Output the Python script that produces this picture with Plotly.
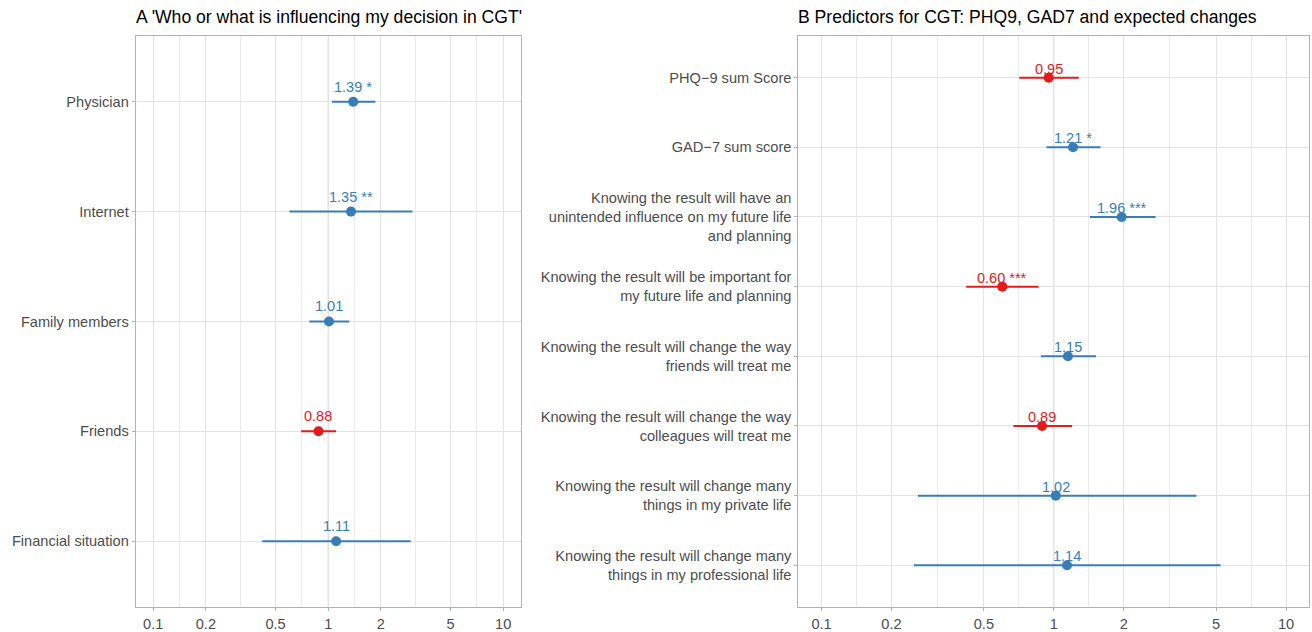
import math
import plotly.graph_objects as go

# ---- Data ----
left_cats = ["Physician", "Internet", "Family members", "Friends", "Financial situation"]
left_or = [1.39, 1.35, 1.01, 0.88, 1.11]
left_lo = [1.05, 0.60, 0.78, 0.70, 0.42]
left_hi = [1.86, 3.03, 1.32, 1.11, 2.96]
left_sig = ["*", "**", "", "", ""]

right_cats = [
    "PHQ\u22129 sum Score",
    "GAD\u22127 sum score",
    "Knowing the result will have an<br>unintended influence on my future life<br>and planning",
    "Knowing the result will be important for<br>my future life and planning",
    "Knowing the result will change the way<br>friends will treat me",
    "Knowing the result will change the way<br>colleagues will treat me",
    "Knowing the result will change many<br>things in my private life",
    "Knowing the result will change many<br>things in my professional life",
]
right_or = [0.95, 1.21, 1.96, 0.60, 1.15, 0.89, 1.02, 1.14]
right_lo = [0.71, 0.93, 1.43, 0.42, 0.88, 0.67, 0.26, 0.25]
right_hi = [1.28, 1.59, 2.74, 0.86, 1.52, 1.20, 4.11, 5.22]
right_sig = ["", "*", "***", "***", "", "", "", ""]

tick_vals = [0.1, 0.2, 0.5, 1, 2, 5, 10]
tick_text = ["0.1", "0.2", "0.5", "1", "2", "5", "10"]
minor_vals = [0.1414, 0.3162, 0.7071, 1.414, 3.162, 7.071]

title_left = "A 'Who or what is influencing my decision in CGT'"
title_right = "B Predictors for CGT: PHQ9, GAD7 and expected changes"

BLUE = "#377EB8"
RED = "#E41A1C"
FONT = "Liberation Sans, Arial, Helvetica, sans-serif"
W, H = 1312, 632
TICK_SIZE = 14.6
LABEL_SIZE = 14.5
TITLE_SIZE = 17.6

fig = go.Figure()
annotations = []


def add_panel(cats, ors, los, his, sigs, xa, ya, yshift):
    for c, o, lo, hi, s in zip(cats, ors, los, his, sigs):
        col = RED if o < 1 else BLUE
        label = f"{o:.2f}" + (f" {s}" if s else "")
        fig.add_trace(go.Scatter(
            x=[o], y=[c], mode="markers",
            marker=dict(size=10, color=col),
            error_x=dict(type="data", symmetric=False, array=[hi - o], arrayminus=[o - lo],
                         color=col, thickness=2, width=0),
            xaxis=xa, yaxis=ya, showlegend=False, cliponaxis=False,
        ))
        # plotly annotations on log axes take log10 coordinates
        annotations.append(dict(
            text=label, x=math.log10(o), y=c, xref=xa, yref=ya,
            xanchor="center", yanchor="middle", yshift=yshift, showarrow=False,
            font=dict(size=LABEL_SIZE, color=col, family=FONT),
        ))


add_panel(left_cats, left_or, left_lo, left_hi, left_sig, "x", "y", 15)
add_panel(right_cats, right_or, right_lo, right_hi, right_sig, "x2", "y2", 9)

xcommon = dict(
    type="log", range=[-1.1, 1.1], tickvals=tick_vals, ticktext=tick_text,
    showgrid=True, gridcolor="#E3E3E3", gridwidth=1,
    minor=dict(tickvals=minor_vals, showgrid=True, gridcolor="#EBEBEB", gridwidth=1, ticks=""),
    showline=True, linecolor="#B3B3B3", linewidth=1, mirror=True,
    ticks="outside", ticklen=3, tickcolor="#B3B3B3",
    tickfont=dict(size=TICK_SIZE, color="#4D4D4D", family=FONT),
    zeroline=False, fixedrange=True,
)
ydom = [1 - 610 / H, 1 - 36 / H]


def ycommon(cats):
    n = len(cats)
    return dict(
        type="category", categoryorder="array", categoryarray=cats,
        range=[n - 1 + 0.6, -0.6], domain=ydom,
        showgrid=True, gridcolor="#E3E3E3", gridwidth=1,
        showline=True, linecolor="#B3B3B3", linewidth=1, mirror=True,
        ticks="outside", ticklen=3, tickcolor="#B3B3B3",
        tickfont=dict(size=TICK_SIZE, color="#4D4D4D", family=FONT),
        zeroline=False, fixedrange=True,
    )


annotations += [
    dict(text=title_left, xref="paper", yref="paper", x=134 / W, y=1 - 29 / H,
         xanchor="left", yanchor="bottom", showarrow=False,
         font=dict(size=TITLE_SIZE, color="#000000", family=FONT)),
    dict(text=title_right, xref="paper", yref="paper", x=796 / W, y=1 - 29 / H,
         xanchor="left", yanchor="bottom", showarrow=False,
         font=dict(size=TITLE_SIZE, color="#000000", family=FONT)),
]

fig.update_layout(
    width=W, height=H,
    margin=dict(l=0, r=0, t=0, b=0),
    paper_bgcolor="white", plot_bgcolor="white",
    font=dict(family=FONT),
    xaxis=dict(domain=[135.7 / W, 520.7 / W], anchor="y", **xcommon),
    yaxis=dict(anchor="x", **ycommon(left_cats)),
    xaxis2=dict(domain=[798.3 / W, 1309.3 / W], anchor="y2", **xcommon),
    yaxis2=dict(anchor="x2", **ycommon(right_cats)),
    shapes=[
        dict(type="line", xref="x", yref="paper", x0=1, x1=1, y0=ydom[0], y1=ydom[1],
             line=dict(color="#D2D2D2", width=1), layer="below"),
        dict(type="line", xref="x2", yref="paper", x0=1, x1=1, y0=ydom[0], y1=ydom[1],
             line=dict(color="#D2D2D2", width=1), layer="below"),
    ],
    annotations=annotations,
)

fig.write_html(
    "out.html",
    config={"displayModeBar": False},
    post_script="document.body.style.margin='0';document.body.style.overflow='hidden';",
)
